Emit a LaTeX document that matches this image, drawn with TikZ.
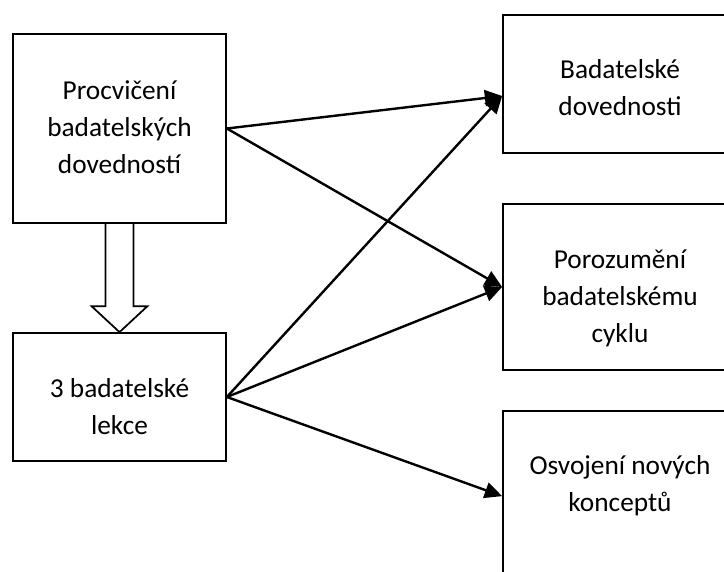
\documentclass[tikz,border=0pt]{standalone}
\usepackage{fontspec}
\setmainfont{Carlito}
\usetikzlibrary{arrows.meta, calc}

\begin{document}
\begin{tikzpicture}[
    x=0.75pt, y=-0.75pt,
    every node/.style={font=\fontsize{20.5}{27.75}\selectfont},
    box/.style={draw, line width=1.3pt, inner sep=0pt},
    txt/.style={align=center, inner sep=0pt},
    link/.style={line width=1.8pt, -{Triangle[length=13pt, width=12pt]}},
    hollow/.style={line width=1.3pt, line join=miter}
  ]
    \clip[use as bounding box] (0,0) rectangle (724,571);

    % Left column
    \node[box, minimum width=213*0.75pt, minimum height=189*0.75pt] (proc) at (119.5,128.5) {};
    \node[txt] (proctxt) at (119.5,127) {Procvičení\\badatelských\\dovedností};

    \node[box, minimum width=213*0.75pt, minimum height=128*0.75pt] (lek) at (119.5,397) {};
    \node[txt] (lektxt) at (119.5,407) {3 badatelské\\lekce};

    % Right column (cut off at the page edge)
    \node[box, minimum width=234*0.75pt, minimum height=138*0.75pt] (dov) at (620,84) {};
    \node[txt] (dovtxt) at (620,88) {Badatelské\\dovednosti};

    \node[box, minimum width=234*0.75pt, minimum height=166*0.75pt] (por) at (620,287) {};
    \node[txt] (portxt) at (620,298) {Porozumění\\badatelskému\\cyklu};

    \node[box, minimum width=234*0.75pt, minimum height=190*0.75pt] (osv) at (620,506) {};
    \node[txt] (osvtxt) at (620,486) {Osvojení nových\\konceptů};

    % Arrow tips on the right boxes
    \coordinate (tipdov) at ($(dov.west)+(0,12)$);
    \coordinate (tiposv) at ($(osv.north west)+(0,86)$);

    % Hollow block arrow between the left boxes
    \draw[hollow] ($(proc.south)+(-14,0)$) |- ($(lek.north)+(-28,-26)$) -- (lek.north)
      -- ($(lek.north)+(28,-26)$) -| ($(proc.south)+(14,0)$);

    % Links
    \draw[link] (proc.east) -- (tipdov);
    \draw[link] (proc.east) -- (por.west);
    \draw[link] (lek.east) -- (tipdov);
    \draw[link] (lek.east) -- (por.west);
    \draw[link] (lek.east) -- (tiposv);
  \end{tikzpicture}
\end{document}
